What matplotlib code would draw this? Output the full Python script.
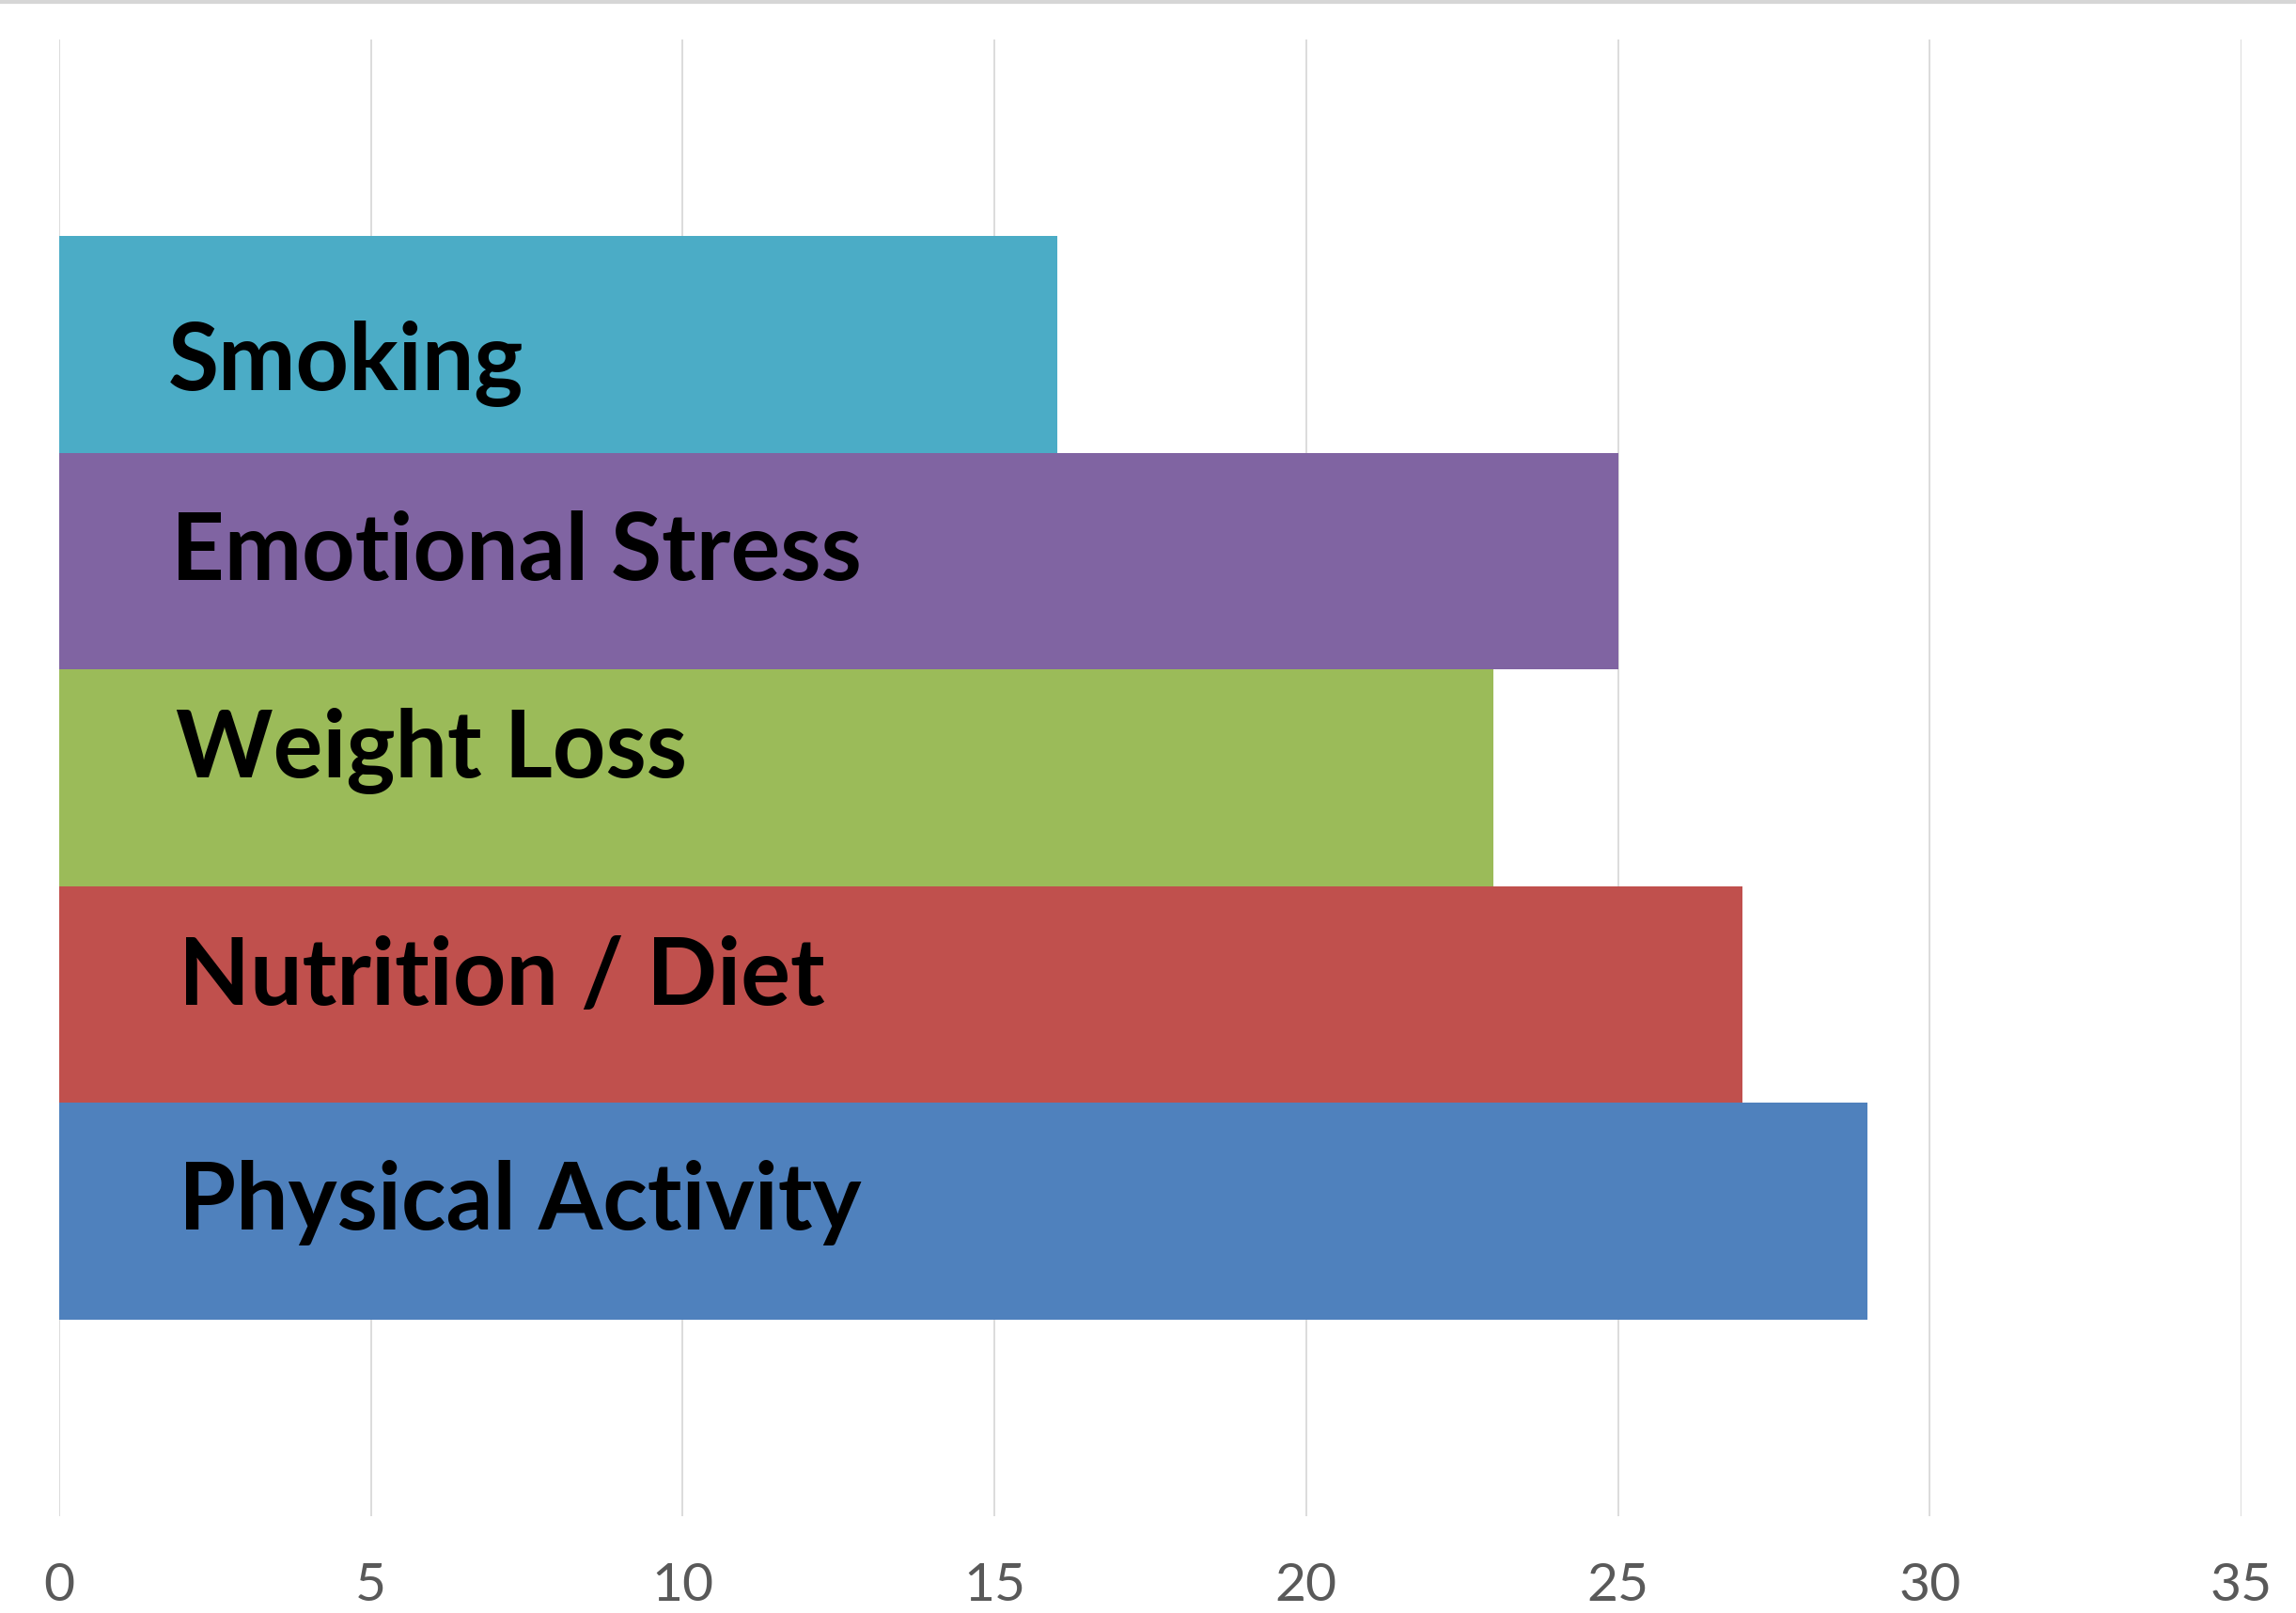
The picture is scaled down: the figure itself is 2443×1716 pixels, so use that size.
import matplotlib
matplotlib.use("Agg")
import matplotlib.pyplot as plt
from matplotlib.lines import Line2D

# data, bottom bar first
factors = ['Physical Activity', 'Nutrition / Diet', 'Weight Loss',
           'Emotional Stress', 'Smoking']
counts = [29, 27, 23, 25, 16]
colors = ['#4F81BD', '#C0504D', '#9BBB59', '#8064A2', '#4BACC6']
ticks = [0, 5, 10, 15, 20, 25, 30, 35]

# label placement (x in data units, baseline offset from bar centre)
label_x = [1.92, 1.92, 1.87, 1.80, 1.75]
label_dy = [-0.085, -0.047, 0.003, -0.085, -0.213]

fig = plt.figure(figsize=(24.43, 17.16), dpi=100)
ax = fig.add_axes([0.0258, 0.06, 0.9505, 0.9155])

ypos = list(range(len(factors)))
ax.barh(ypos, counts, height=1.0, color=colors, zorder=2)

for i, name in enumerate(factors):
    ax.text(label_x[i], ypos[i] + label_dy[i], name, fontsize=71,
            fontweight='bold', family='Lato', va='baseline', ha='left',
            color='black', zorder=3)

ax.set_xlim(0, 35)
ax.set_ylim(-1.4065, 5.4065)
ax.set_xticks(ticks)
ax.set_xticklabels([str(t) for t in ticks], fontsize=41, family='Lato',
                   color='#595959')
ax.set_yticks([])
ax.tick_params(axis='x', length=0, pad=35)
ax.grid(axis='x', color='#D9D9D9', linewidth=1.3, zorder=0)
ax.set_axisbelow(True)
for s in ax.spines.values():
    s.set_visible(False)

fig.add_artist(Line2D([0, 1], [0.999, 0.999], color='#D6D6D6',
                      linewidth=3, transform=fig.transFigure))

fig.savefig('out.png', dpi=100)
